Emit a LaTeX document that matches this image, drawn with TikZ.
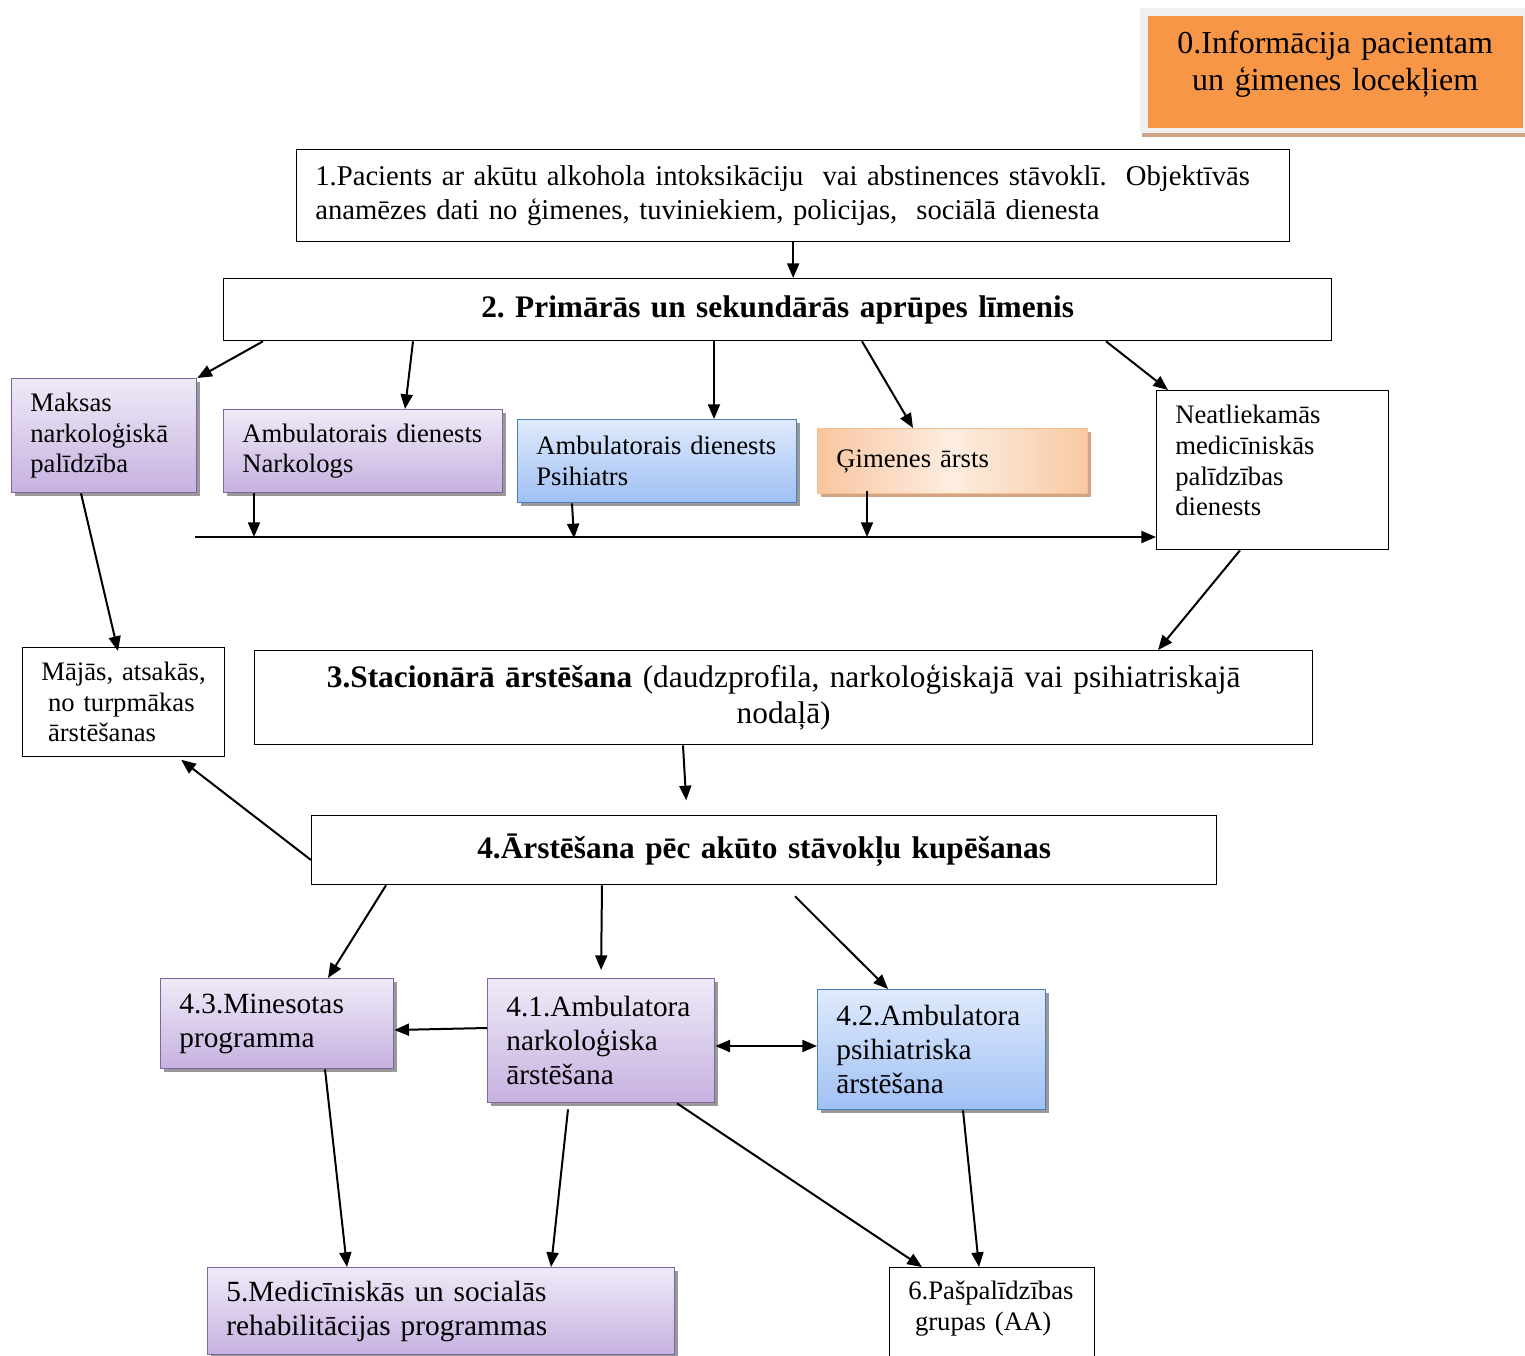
\documentclass[tikz,border=0pt]{standalone}
\usepackage{fontspec}
\setmainfont{Liberation Serif}
\usetikzlibrary{arrows.meta,calc,shadows}

\definecolor{infoorange}{HTML}{F79646}
\definecolor{infoframe}{HTML}{F0F0F0}
\definecolor{tanshadow}{HTML}{D2A587}
\definecolor{violetedge}{HTML}{8064A2}
\definecolor{violettop}{HTML}{EFEAF7}
\definecolor{violetbot}{HTML}{C6B1E0}
\definecolor{blueedge}{HTML}{4A7EBB}
\definecolor{bluetop}{HTML}{DFEAFC}
\definecolor{bluebot}{HTML}{A0C0F4}
\definecolor{peachedge}{HTML}{F8C08F}
\definecolor{peachside}{HTML}{F8C6A0}
\definecolor{peachmid}{HTML}{FDEDE1}
\definecolor{peachright}{HTML}{F9C9A2}

\newcommand{\infofont}{\fontsize{24pt}{27.75pt}\selectfont}
\newcommand{\headfont}{\fontsize{23.5pt}{27pt}\selectfont}
\newcommand{\firstfont}{\fontsize{21.5pt}{25.5pt}\selectfont}
\newcommand{\boxfont}{\fontsize{22pt}{25.5pt}\selectfont}
\newcommand{\smallboxfont}{\fontsize{20pt}{23pt}\selectfont}

\begin{document}
\frenchspacing
\begin{tikzpicture}[x=0.75pt,y=-0.75pt]
  \tikzset{
    box/.style={draw=black,line width=1pt,anchor=north west,inner xsep=14pt,align=left,font=\boxfont},
    headbox/.style={box,align=center,font=\headfont},
    violetbox/.style={box,draw=violetedge,top color=violettop,bottom color=violetbot,
      drop shadow={shadow xshift=2.5pt,shadow yshift=-2.5pt,fill=black!40,opacity=1}},
    bluebox/.style={box,draw=blueedge,top color=bluetop,bottom color=bluebot,
      drop shadow={shadow xshift=2.5pt,shadow yshift=-2.5pt,fill=black!40,opacity=1}},
    peachbox/.style={box,draw=peachedge,left color=peachside,right color=peachright,middle color=peachmid,
      drop shadow={shadow xshift=2.5pt,shadow yshift=-2.5pt,fill=tanshadow,opacity=1}},
    arrow/.style={-{Triangle[length=11pt,width=9pt]},line width=1.5pt},
    twoway/.style={{Triangle[length=11pt,width=9pt]}-{Triangle[length=11pt,width=9pt]},line width=1.5pt}
  }
  \useasboundingbox (0,0) rectangle (1525,1356);
  \clip (0,0) rectangle (1525,1356);

  % information box
  \fill[infoframe] (1140,8) rectangle (1525,133);
  \fill[tanshadow] (1142,133) rectangle (1525,137);
  \node[box,draw=none,fill=infoorange,align=center,font=\infofont,text width=253.25pt,
    minimum height=84pt,text height=17pt,text depth=45pt] (info) at (1147,15)
    {0.Informācija pacientam\\un ģimenes locekļiem};

  % first levels
  \node[box,font=\firstfont,text width=716.75pt,minimum height=69pt] (pacients) at (296,149)
    {\mbox{1.Pacients ar akūtu alkohola intoksikāciju\ \ vai abstinences stāvoklī.\ \ Objektīvās}\\
     \mbox{anamēzes dati no ģimenes, tuviniekiem, policijas,\ \ sociālā dienesta}};
  \node[headbox,text width=803pt,minimum height=46.5pt] (limenis) at (223,278)
    {\textbf{2. Primārās un sekundārās aprūpes līmenis}};

  \node[violetbox,font=\smallboxfont,text width=110.75pt,minimum height=85.5pt] (maksas) at (11,378)
    {Maksas\\narkoloģiskā\\palīdzība};
  \node[violetbox,font=\smallboxfont,text width=181.25pt,minimum height=62.25pt] (narkologs) at (223,409)
    {Ambulatorais dienests\\Narkologs};
  \node[bluebox,font=\smallboxfont,text width=181.25pt,minimum height=62.25pt] (psihiatrs) at (517,419)
    {Ambulatorais dienests\\Psihiatrs};
  \node[peachbox,font=\smallboxfont,text width=174.5pt,minimum height=48.75pt] (gimenes) at (817,428)
    {Ģimenes ārsts};
  \node[box,font=\smallboxfont,text width=146pt,minimum height=119.25pt,
    text height=15pt,text depth=84.5pt] (neatliek) at (1156,390)
    {Neatliekamās\\medicīniskās\\palīdzības\\dienests};

  \node[box,font=\smallboxfont,text width=123.5pt,minimum height=81.75pt] (majas) at (22,647)
    {Mājās, atsakās,\\\hspace*{.25em}no turpmākas\\\hspace*{.25em}ārstēšanas};
  \node[headbox,text width=765.5pt,minimum height=70.5pt] (stacionars) at (254,650)
    {\textbf{3.Stacionārā ārstēšana} (daudzprofila, narkoloģiskajā vai psihiatriskajā\\nodaļā)};
  \node[headbox,text width=650.75pt,minimum height=51.75pt] (arstesana) at (311,815)
    {\textbf{4.Ārstēšana pēc akūto stāvokļu kupēšanas}};

  \node[violetbox,text width=146.75pt,minimum height=67.5pt] (minesotas) at (160,978)
    {4.3.Minesotas\\programma};
  \node[violetbox,text width=142.25pt,minimum height=93pt] (narkarst) at (487,978)
    {4.1.Ambulatora\\narkoloģiska\\ārstēšana};
  \node[bluebox,text width=143pt,minimum height=90pt] (psiharst) at (817,989)
    {4.2.Ambulatora\\psihiatriska\\ārstēšana};

  \node[violetbox,text width=322.25pt,minimum height=65.25pt] (rehab) at (207,1267)
    {5.Medicīniskās un socialās\\rehabilitācijas programmas};
  \node[box,font=\smallboxfont,text width=125.75pt,inner ysep=6pt,text height=18pt,text depth=100pt] (pasp) at (889,1267)
    {6.Pašpalīdzības\\\hspace*{.25em}grupas (AA)};

  % connectors
  \coordinate (rowline) at (195,537);
  \draw[arrow] (pacients.south) -- (pacients.south |- limenis.north);
  \draw[arrow] ($(limenis.south west)+(40,0)$) -- (maksas.north east);
  \draw[arrow] ($(limenis.south west)+(190,0)$) -- ($(narkologs.north west)+(182,0)$);
  \draw[arrow] ($(limenis.south west)+(491,0)$) -- ($(psihiatrs.north west)+(197,0)$);
  \draw[arrow] ($(limenis.south west)+(639,0)$) -- ($(gimenes.north west)+(96,0)$);
  \draw[arrow] ($(limenis.south west)+(883,0)$) -- ($(neatliek.north west)+(12,0)$);

  \draw[arrow] (rowline) -- (rowline -| neatliek.west);
  \draw[arrow] ($(narkologs.south west)+(31,0)$) coordinate (d1) -- (d1 |- rowline);
  \draw[arrow] ($(psihiatrs.south west)+(55,0)$) -- ($(psihiatrs.south west)+(57,35)$);
  \draw[arrow] ($(gimenes.south west)+(50,-3)$) coordinate (d3) -- (d3 |- rowline);

  \draw[arrow] ($(maksas.south west)+(70,0)$) -- ($(majas.north west)+(96,4)$);
  \draw[arrow] ($(neatliek.south west)+(84,0)$) -- ($(stacionars.north west)+(904,0)$);
  \draw[arrow,shorten >=11pt] ($(stacionars.south west)+(429,0)$) -- ($(arstesana.north west)+(376,0)$);
  \draw[arrow,shorten >=3pt] ($(arstesana.north west)+(0,45)$) -- ($(majas.south west)+(156,0)$);

  \draw[arrow] ($(arstesana.south west)+(75,0)$) -- ($(minesotas.north west)+(168,0)$);
  \draw[arrow,shorten >=6pt] ($(arstesana.south west)+(291,0)$) -- ($(narkarst.north west)+(114,0)$);
  \draw[arrow] ($(arstesana.south west)+(484,11)$) -- ($(psiharst.north west)+(71,0)$);
  \draw[arrow] ($(narkarst.north west)+(0,50)$) -- ($(minesotas.north east)+(0,52)$);
  \draw[twoway] ($(narkarst.north east)+(0,68)$) -- ($(psiharst.north west)+(0,57)$);

  \draw[arrow] ($(minesotas.south west)+(165,0)$) -- ($(rehab.north west)+(140,0)$);
  \draw[arrow] ($(narkarst.south west)+(81,6)$) -- ($(rehab.north west)+(344,0)$);
  \draw[arrow] ($(narkarst.south west)+(190,0)$) -- ($(pasp.north west)+(33,0)$);
  \draw[arrow] ($(psiharst.south west)+(146,0)$) -- ($(pasp.north west)+(90,0)$);
\end{tikzpicture}
\end{document}
